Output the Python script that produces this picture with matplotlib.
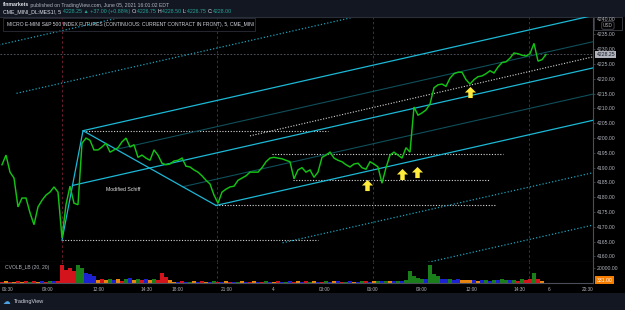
import numpy as np
import matplotlib
matplotlib.use('Agg')
import matplotlib.pyplot as plt
from matplotlib.patches import Rectangle
from matplotlib.path import Path
from matplotlib.transforms import Bbox, TransformedBbox, blended_transform_factory
from matplotlib.ticker import FuncFormatter

plt.rcParams['font.family'] = ['Liberation Sans', 'DejaVu Sans']

# ---------------- data ----------------
first_slot = 2
slot_step = 4
close = [
    4191.0, 4194.25, 4188.5, 4186.5, 4176.75, 4179.75, 4179.75, 4174.75, 4170.75, 4176.75,
    4179.0, 4180.75, 4181.75, 4183.5, 4181.75, 4166.25, 4177.5, 4183.75, 4178.0, 4177.5,
    4198.25, 4200.0, 4199.25, 4196.0, 4196.0, 4197.0, 4198.25, 4195.25, 4196.0, 4196.75,
    4198.75, 4200.0, 4197.0, 4197.75, 4193.5, 4194.25, 4193.25, 4192.5, 4196.0, 4194.25,
    4191.5, 4191.0, 4191.25, 4192.25, 4192.5, 4193.25, 4190.5, 4190.25, 4189.25, 4188.5,
    4187.25, 4185.75, 4184.5, 4180.75, 4178.0, 4181.75, 4182.75, 4183.5, 4183.75, 4185.75,
    4186.5, 4187.25, 4188.5, 4188.5, 4188.5, 4190.0, 4192.0, 4193.25, 4193.5, 4193.25,
    4193.0, 4192.5, 4192.0, 4186.25, 4189.25, 4190.0, 4188.5, 4189.25, 4186.75, 4188.5,
    4193.5, 4194.25, 4195.25, 4193.25, 4192.5, 4192.0, 4191.0, 4190.25, 4191.25, 4191.5,
    4190.0, 4189.5, 4192.0, 4191.25, 4190.25, 4184.75, 4190.0, 4194.25, 4195.25, 4194.25,
    4193.25, 4196.75, 4195.25, 4210.5, 4207.75, 4208.5, 4209.5, 4211.5, 4217.0, 4218.0,
    4218.25, 4217.5, 4220.25, 4221.75, 4222.25, 4222.25, 4219.75, 4218.25, 4219.75, 4220.75,
    4221.0, 4221.75, 4222.75, 4222.0, 4224.0, 4225.5, 4225.75, 4227.0, 4228.75, 4228.5,
    4228.0, 4227.75, 4228.5, 4232.0, 4226.0, 4226.5, 4228.25,
]
volume = [
    1500, 2500, 1200, 2000, 3000, 1800, 2200, 1500, 2600, 1900, 2400, 1700, 2100, 2800, 3000,
    24000, 18000, 20000, 16000, 24000, 20000, 13000, 12000, 9000,
    4000, 5000, 3500, 6000, 4500, 5500, 3000, 4800, 6500, 4200, 5000, 3800, 5200, 4400, 6000, 4500,
    13000, 8000, 4000,
    2000, 1500, 2500, 1800, 1200, 2200, 1600, 2400, 1400, 1900, 2600, 1500, 1700, 2300, 1300, 2000,
    1800, 2500, 1600, 1400, 2100, 1900, 1500, 2700, 1800, 1600, 2200, 1400, 2000, 2600, 1700, 2300,
    1800, 2200, 1500, 2600, 2000, 1700, 2400, 1600, 2100, 2800, 1900, 1500, 2300, 2000, 1700, 2600,
    2200, 1800, 2500, 3000, 2100, 2700, 2400, 3200, 2600, 3000, 3500,
    16000, 10000, 7000, 6000, 5000, 24000, 12000, 9000, 6000,
    5000, 6000, 4500, 5000, 4000,
    4500, 3500, 4000, 3000, 3500, 4000, 3000, 4500, 3500, 5000, 4000, 3500, 4500,
    3000, 5000, 4000, 6000, 14000, 6000, 3000, 331,
]
volume_class = ("rorororgrobrgbr" + "rrrrggbbb" + "orogborgbogrbogr" + "rro"
                + "obrbgobrobgrborbgobrobrgborbgbro" + "brgobrgbobrgbobgrbogbgobgbg"
                + "ggggbgggb" + "bgbbo" + "oobobgbgbggbg" + "rgrrgroo")

pivot_slot = [62, 83, 216]
pivot_price = [4165.5, 4202.5, 4177.25]
fork_levels = [1, 0.5, -0.5, -1, 2, 3, -2, -3]

hline_price = [4165.5, 4202.5, 4177.25, 4194.5, 4185.75]
hline_start = [62, 83, 216, 272, 293]
hline_end = [318, 328, 495, 503, 490]

ray_slot = [250, 600]
ray_price = [4200.75, 4228.0]

session_slots = [62, 217, 373, 529]

arrow_slot = [367, 402, 417, 470]
arrow_price = [4184.3, 4187.9, 4188.7, 4215.6]

note_slot, note_price, note_text = 106, 4182.5, "Modified Schiff"

time_tick_slots = [8, 48, 98, 147, 178, 227, 273, 325, 373, 422, 471, 520, 549, 588]
time_tick_labels = ['06:30', '09:00', '12:00', '14:30', '18:00', '21:00', '4',
                    '03:00', '06:00', '09:00', '12:00', '14:30', '6', '20:30']
price_ticks = list(range(4160, 4240, 5))
last_price = 4228.25
vol_tick = 20000

# ---------------- figure ----------------
W, H = 625, 310
BG = '#131722'
fig = plt.figure(figsize=(W / 100, H / 100), dpi=100, facecolor=BG)


def fr(x0, y0, x1, y1):
    return [x0 / W, 1 - y1 / H, (x1 - x0) / W, (y1 - y0) / H]


def fx(x):
    return x / W


def fy(y):
    return 1 - y / H


fig.patches.append(Rectangle((0, fy(293)), 1, (293 - 17) / H, transform=fig.transFigure,
                             facecolor='black', edgecolor='none', zorder=-5))

ax = fig.add_axes(fr(0, 17, 593, 262))
axv = fig.add_axes(fr(0, 262, 593, 283), sharex=ax)
for a in (ax, axv):
    a.set_facecolor('black')
    for s in a.spines.values():
        s.set_color('#2a2e39')
        s.set_linewidth(0.8)
    a.spines['left'].set_visible(False)
ax.spines['right'].set_color('#4a4e59')
axv.spines['right'].set_color('#4a4e59')
axv.spines['top'].set_visible(False)
ax.spines['bottom'].set_color('#4a4e59')
axv.spines['bottom'].set_color('#4a4e59')

ax.set_xlim(0, 593)
ax.set_ylim(4158.14, 4240.91)
axv.set_ylim(0, 28000)

x = first_slot + slot_step * np.arange(len(close))

# session separators
for s in session_slots:
    for a in (ax, axv):
        a.axvline(s, color='#6b1c33', lw=0.7, ls=(0, (2.5, 2.5)), zorder=1)

# current price line
ax.axhline(last_price, color='#5d606b', lw=0.6, ls=(0, (2, 2)), zorder=1)

# horizontal dotted levels
for p, s0, s1 in zip(hline_price, hline_start, hline_end):
    ax.plot([s0, s1], [p, p], color='#d8d8d8', lw=0.8, ls=(0, (1, 1.5)), zorder=2)

# trend ray
ax.plot(ray_slot, ray_price, color='#d8d8d8', lw=0.8, ls=(0, (1, 1.5)), zorder=2)

# pitchfork (modified schiff)
(xa, xb, xc), (pa, pb, pc) = pivot_slot, pivot_price
m0x, m0p = (xa + xb) / 2, (pa + pb) / 2
mx, mp = (xb + xc) / 2, (pb + pc) / 2
slope = (mp - m0p) / (mx - m0x)
x_end = 610
cyan = '#1cb8d6'
ax.plot([xa, xb, xc], [pa, pb, pc], color=cyan, lw=0.9, zorder=3)
ax.plot([m0x, x_end], [m0p, m0p + slope * (x_end - m0x)], color=cyan, lw=0.9, zorder=3)
for k in fork_levels:
    if k > 0:
        sx, sp = mx + k * (xb - mx), mp + k * (pb - mp)
    else:
        sx, sp = mx - k * (xc - mx), mp - k * (pc - mp)
    ex, ep = x_end, sp + slope * (x_end - sx)
    if abs(k) == 1:
        ax.plot([sx, ex], [sp, ep], color=cyan, lw=0.9, zorder=3)
    elif abs(k) < 1:
        ax.plot([sx, ex], [sp, ep], color='#0f4f5a', lw=0.8, zorder=2)
    else:
        ax.plot([sx, ex], [sp, ep], color='#1aa3bd', lw=0.9, ls=(0, (1, 1.6)), zorder=2)

# price
ax.plot(x, close, color='#14c214', lw=1.05, zorder=4, solid_joinstyle='miter')

# arrows
verts = [(0, 0.5), (0.5, 0.0), (0.2, 0.0), (0.2, -0.5), (-0.2, -0.5), (-0.2, 0.0), (-0.5, 0.0), (0, 0.5)]
codes = [Path.MOVETO] + [Path.LINETO] * 6 + [Path.CLOSEPOLY]
arrow_marker = Path(verts, codes)
ax.plot(arrow_slot, arrow_price, ls='none', marker=arrow_marker, ms=8, color='#ffeb3b',
        markeredgewidth=0, zorder=5)

ax.text(note_slot, note_price, note_text, color='#e6e6e6', fontsize=3.7, va='center', ha='left', zorder=5)

# volume
cmap = {'r': '#d4141c', 'g': '#1a7f1a', 'b': '#1c22d2', 'o': '#e8860f'}
axv.bar(x, volume, width=3.6, color=[cmap[c] for c in volume_class], linewidth=0, zorder=2)

# axes ticks
ax.yaxis.tick_right()
ax.set_yticks(price_ticks)
ax.yaxis.set_major_formatter(FuncFormatter(lambda v, p: f'{v:.2f}'))
ax.tick_params(axis='y', length=1.5, width=0.5, color='#4a4e59', labelsize=3.7,
               labelcolor='#b2b5be', pad=1.2)
ax.tick_params(axis='x', bottom=False, labelbottom=False)

axv.yaxis.tick_right()
axv.set_yticks([vol_tick])
axv.yaxis.set_major_formatter(FuncFormatter(lambda v, p: f'{v:.2f}'))
axv.tick_params(axis='y', length=1.5, width=0.5, color='#4a4e59', labelsize=3.7,
                labelcolor='#b2b5be', pad=1.2)
axv.set_xticks(time_tick_slots)
axv.set_xticklabels(time_tick_labels)
axv.tick_params(axis='x', length=0, labelsize=3.4, labelcolor='#b2b5be', pad=2.6)

# last price label
tr = blended_transform_factory(ax.transAxes, ax.transData)
ax.text(1.006, last_price, f'{last_price:.2f}', transform=tr, fontsize=3.7, color='#131722',
        ha='left', va='center', clip_on=False, zorder=10,
        bbox=dict(boxstyle='square,pad=0.25', fc='#b2b5be', ec='none'))
trv = blended_transform_factory(axv.transAxes, axv.transData)
axv.text(1.006, volume[-1], f'{volume[-1]:.2f}', transform=trv, fontsize=3.7, color='white',
         ha='left', va='bottom', clip_on=False, zorder=10,
         bbox=dict(boxstyle='square,pad=0.3', fc='#f57c00', ec='none'))

# top price box
fig.patches.append(Rectangle((fx(594), fy(30)), 28 / W, 13 / H, transform=fig.transFigure,
                             facecolor='black', edgecolor='#4a4e59', lw=0.5, zorder=5))
fig.text(fx(597), fy(19.5), '4240.00', fontsize=3.7, color='#b2b5be', va='center', zorder=6)
fig.text(fx(603), fy(25.5), 'USD', fontsize=3.4, color='#b2b5be', va='center', zorder=6,
         bbox=dict(boxstyle='round,pad=0.25', fc='black', ec='#6a6e79', lw=0.4))

fig.canvas.draw()
renderer = fig.canvas.get_renderer()


def text_run(x0, y0, segments, size):
    cx = fx(x0)
    for txt, col, wt in segments:
        t = fig.text(cx, fy(y0), txt, fontsize=size, color=col, va='center', weight=wt)
        bb = t.get_window_extent(renderer)
        cx += bb.width / W


# header texts
text_run(3, 5, [('finmarkets', '#e0e3eb', 'bold'),
                (' published on TradingView.com, June 05, 2021 16:01:02 EDT', '#b2b5be', 'normal')], 3.7)
teal = '#26a69a'
wh = '#e0e3eb'
text_run(3, 11.5, [('CME_MINI_DL:MES1!, 5 ', wh, 'normal'), ('4228.25 ▲ +37.00 (+0.88%) ', teal, 'normal'),
                   ('O:', wh, 'normal'), ('4226.75 ', teal, 'normal'), ('H:', wh, 'normal'),
                   ('4228.50 ', teal, 'normal'), ('L:', wh, 'normal'), ('4226.75 ', teal, 'normal'),
                   ('C:', wh, 'normal'), ('4228.00', teal, 'normal')], 3.8)

fig.patches.append(Rectangle((fx(3), fy(31)), 252 / W, 13 / H, transform=fig.transFigure,
                             facecolor='none', edgecolor='#2a2e39', lw=0.6, zorder=5))
fig.text(fx(7), fy(24.5),
         'MICRO E-MINI S&P 500 INDEX FUTURES (CONTINUOUS: CURRENT CONTRACT IN FRONT), 5, CME_MINI',
         fontsize=3.6, color='#d1d4dc', va='center', zorder=6)

fig.text(fx(5), fy(268), 'CVOLB_LB (20, 20)', fontsize=3.6, color='#b2b5be', va='center', zorder=6)

# footer logo
fig.text(fx(3), fy(301.5), '\u2601', fontsize=5.5, color='#4ba3e3', va='center',
         family=['DejaVu Sans'])
fig.text(fx(14), fy(301.5), 'TradingView', fontsize=4.0, color='#d1d4dc', va='center')

clipbb = TransformedBbox(Bbox([[0, 0], [593 / W, 1]]), fig.transFigure)
for tick in axv.xaxis.get_major_ticks():
    tick.label1.set_clip_box(clipbb)
    tick.label1.set_clip_on(True)

fig.savefig('out.png', dpi=100, facecolor=BG)
